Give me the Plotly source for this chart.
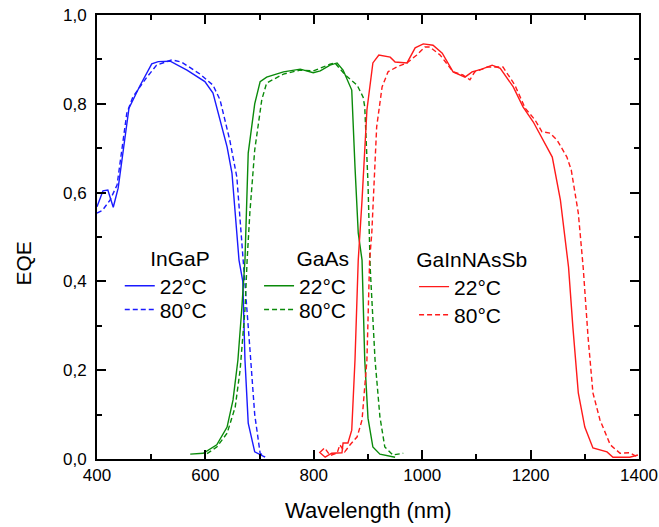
import plotly.graph_objects as go

# ---- data ----
ingap22_x = [400, 411, 420, 430, 439, 448, 459, 479, 501, 513, 535, 566, 599, 614, 627, 640, 649, 662, 669, 673, 679, 691, 710]
ingap22_y = [0.568, 0.604, 0.606, 0.567, 0.61, 0.689, 0.79, 0.84, 0.89, 0.895, 0.896, 0.876, 0.85, 0.824, 0.764, 0.703, 0.644, 0.448, 0.4, 0.223, 0.081, 0.016, 0.004]

ingap80_x = [400, 410, 424, 437, 455, 466, 492, 510, 538, 556, 590, 614, 627, 645, 658, 669, 673, 682, 691, 701, 710]
ingap80_y = [0.554, 0.56, 0.583, 0.617, 0.779, 0.815, 0.86, 0.887, 0.899, 0.894, 0.867, 0.842, 0.809, 0.718, 0.635, 0.448, 0.4, 0.25, 0.1, 0.013, 0.005]

gaas22_x = [572, 596, 621, 640, 651, 660, 667, 673, 679, 691, 701, 713, 744, 775, 799, 812, 830, 843, 854, 870, 876, 882, 889, 894, 900, 909, 922, 950]
gaas22_y = [0.011, 0.013, 0.032, 0.072, 0.133, 0.223, 0.336, 0.448, 0.689, 0.80, 0.85, 0.86, 0.872, 0.878, 0.87, 0.874, 0.887, 0.892, 0.876, 0.831, 0.658, 0.509, 0.448, 0.223, 0.092, 0.027, 0.011, 0.004]

gaas80_x = [603, 621, 640, 655, 664, 673, 677, 682, 691, 704, 713, 744, 775, 799, 830, 839, 858, 880, 891, 894, 900, 904, 913, 922, 931, 946, 965]
gaas80_y = [0.012, 0.027, 0.058, 0.117, 0.2, 0.336, 0.448, 0.554, 0.696, 0.809, 0.847, 0.867, 0.876, 0.874, 0.889, 0.892, 0.865, 0.842, 0.815, 0.793, 0.621, 0.432, 0.223, 0.095, 0.027, 0.009, 0.013]

gin22_x = [810, 821, 833, 852, 854, 863, 870, 876, 882, 889, 898, 909, 920, 941, 950, 972, 987, 1002, 1020, 1037, 1057, 1079, 1092, 1110, 1129, 1144, 1168, 1186, 1205, 1221, 1240, 1255, 1270, 1278, 1288, 1300, 1315, 1341, 1352, 1383, 1398]
gin22_y = [0.016, 0.004, 0.013, 0.014, 0.036, 0.036, 0.065, 0.223, 0.448, 0.583, 0.786, 0.892, 0.91, 0.905, 0.894, 0.892, 0.926, 0.935, 0.932, 0.914, 0.872, 0.86, 0.872, 0.878, 0.887, 0.88, 0.838, 0.793, 0.759, 0.723, 0.68, 0.583, 0.432, 0.297, 0.149, 0.072, 0.025, 0.016, 0.004, 0.004, 0.009]

gin80_x = [812, 820, 830, 843, 848, 857, 867, 880, 889, 898, 903, 907, 916, 926, 937, 953, 972, 990, 1005, 1014, 1033, 1057, 1075, 1088, 1097, 1121, 1149, 1171, 1190, 1208, 1221, 1236, 1249, 1267, 1275, 1288, 1297, 1306, 1315, 1328, 1347, 1365, 1383, 1398]
gin80_y = [0.016, 0.025, 0.008, 0.013, 0.032, 0.016, 0.032, 0.05, 0.088, 0.223, 0.448, 0.509, 0.748, 0.838, 0.872, 0.883, 0.892, 0.91, 0.928, 0.928, 0.91, 0.872, 0.865, 0.854, 0.872, 0.883, 0.883, 0.842, 0.79, 0.764, 0.737, 0.734, 0.718, 0.68, 0.651, 0.554, 0.432, 0.275, 0.149, 0.088, 0.032, 0.013, 0.014, 0.004]

materials = ["InGaP", "GaAs", "GaInNAsSb"]
temps = ["22°C", "80°C"]
colors = {"InGaP": "#1a1aff", "GaAs": "#0a8a0a", "GaInNAsSb": "#ff1a1a"}
series = {
    ("InGaP", "22°C"): (ingap22_x, ingap22_y),
    ("InGaP", "80°C"): (ingap80_x, ingap80_y),
    ("GaAs", "22°C"): (gaas22_x, gaas22_y),
    ("GaAs", "80°C"): (gaas80_x, gaas80_y),
    ("GaInNAsSb", "22°C"): (gin22_x, gin22_y),
    ("GaInNAsSb", "80°C"): (gin80_x, gin80_y),
}

FONT = "Arial, Liberation Sans, sans-serif"

# legend placement (paper coords): left x, top y of titled legend, centre y of 80°C legend
leg_pos = {
    "InGaP": (0.042, 0.497, 0.336),
    "GaAs": (0.299, 0.497, 0.336),
    "GaInNAsSb": (0.585, 0.495, 0.324),
}

fig = go.Figure()
legend_layout = {}
n = 0
for m in materials:
    for t in temps:
        n += 1
        lid = "legend" if n == 1 else f"legend{n}"
        xs, ys = series[(m, t)]
        fig.add_trace(go.Scatter(
            x=xs, y=ys, mode="lines", name=t,
            legend=lid,
            line=dict(color=colors[m], width=1.4,
                      dash="solid" if t == "22°C" else "5px,3px"),
        ))
        lx, ly_top, ly_mid = leg_pos[m]
        cfg = dict(
            x=lx, xanchor="left",
            font=dict(size=21, color="black", family=FONT),
            bgcolor="rgba(0,0,0,0)", itemwidth=30, tracegroupgap=0,
        )
        if t == "22°C":
            cfg.update(y=ly_top, yanchor="top",
                       title=dict(text=m, side="top right",
                                  font=dict(size=21, color="black", family=FONT)))
        else:
            cfg.update(y=ly_mid, yanchor="middle")
        legend_layout[lid] = cfg

fig.update_layout(
    template="none",
    width=659, height=527,
    margin=dict(l=97, r=20, t=15, b=68, autoexpand=False),
    paper_bgcolor="white", plot_bgcolor="white",
    separators=",.",
    showlegend=True,
    font=dict(family=FONT, color="black"),
    **legend_layout,
)

axis_common = dict(
    showline=True, linewidth=2, linecolor="black", mirror="ticks",
    ticks="inside", ticklen=9, tickwidth=1.5, tickcolor="black",
    showgrid=False, zeroline=False, automargin=False,
    tickfont=dict(size=17, family=FONT, color="black"),
)
fig.update_xaxes(range=[400, 1400], dtick=200, tick0=400, tickformat="d",
                 minor=dict(dtick=100, ticks="inside", ticklen=5, tickwidth=1.5, tickcolor="black"),
                 **axis_common)
fig.update_yaxes(range=[0, 1.0], dtick=0.2, tick0=0, tickformat=".1f", ticklabelstandoff=5,
                 minor=dict(dtick=0.1, ticks="inside", ticklen=5, tickwidth=1.5, tickcolor="black"),
                 **axis_common)

fig.add_annotation(text="Wavelength (nm)", xref="paper", yref="paper", x=0.5, y=-0.115,
                   showarrow=False, font=dict(size=22, family=FONT, color="black"),
                   xanchor="center", yanchor="middle")
fig.add_annotation(text="EQE", xref="paper", yref="paper", x=-0.135, y=0.44,
                   showarrow=False, textangle=-90, font=dict(size=21, family=FONT, color="black"),
                   xanchor="center", yanchor="middle")

fig.write_html("out.html")
